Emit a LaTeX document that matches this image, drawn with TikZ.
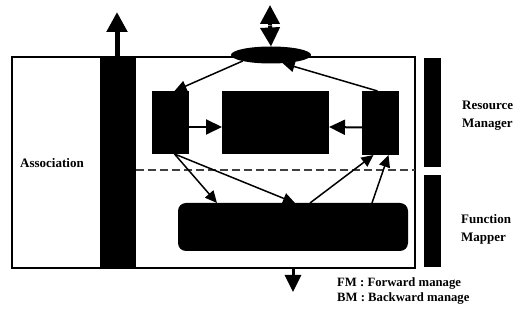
\documentclass[tikz,border=0pt]{standalone}
\usepackage{fontspec}
\setmainfont{Liberation Serif}
\usetikzlibrary{shapes.geometric,arrows.meta}
\begin{document}
\begin{tikzpicture}[x=1pt,y=-1pt,
  blk/.style={fill=black,draw=none,inner sep=0pt,outer sep=0pt},
  arr/.style={line width=1.5pt,-{Triangle[length=12pt,width=11pt]}},
  harr/.style={line width=2pt,-{Triangle[length=16pt,width=15pt]}},
  bigarr/.style={line width=5pt,-{Triangle[length=20pt,width=20pt]}},
  lbl/.style={font=\fontsize{13}{18}\selectfont\bfseries,inner sep=0pt,anchor=west,align=left}]
\useasboundingbox (0,0) rectangle (523,328);

% outer frame
\node[draw,line width=1.7pt,minimum width=403pt,minimum height=211pt,inner sep=0pt,outer sep=0pt] (frame) at (213.5,162.5) {};

% association bar
\node[blk,minimum width=36pt,minimum height=211pt] (bar) at (118,162.5) {};

% upper ellipse
\node[ellipse,blk,minimum width=80pt,minimum height=17pt] (ell) at (271,55) {};

% inner blocks
\node[blk,minimum width=37pt,minimum height=63pt] (lbox) at (170.5,122.5) {};
\node[blk,minimum width=107pt,minimum height=63pt] (cbox) at (275.5,122.5) {};
\node[blk,minimum width=37pt,minimum height=64pt] (rbox) at (380.5,123) {};
\node[blk,rounded corners=8pt,minimum width=230pt,minimum height=48pt] (fbox) at (293,227) {};

% side bars
\node[blk,minimum width=17pt,minimum height=109pt] (rmbar) at (432.5,112.5) {};
\node[blk,minimum width=17pt,minimum height=92pt] (fmbar) at (432.5,221) {};

% separator between the two managers
\coordinate (dl) at (136,170);
\coordinate (dr) at (415,170);
\draw[line width=1.1pt,dash pattern=on 8pt off 4pt,black!75] (dl) -- (dr);

% external arrows
\coordinate (uptip) at (117,12);
\draw[bigarr] (117,57) -- (uptip);
\coordinate (dbltop) at (270,5);
\coordinate (dblmid) at (270,25.5);
\draw[line width=4pt,-{Triangle[length=19pt,width=19pt]}] (dblmid) -- (dbltop);
\draw[line width=4pt,-{Triangle[length=19pt,width=19pt]}] (dblmid) -- (ell.north);
\coordinate (dntip) at (293,292);
\draw[line width=3pt,-{Triangle[length=17pt,width=16pt]}] (frame.south -| dntip) -- (dntip);

% internal connectors
\draw[harr] ([yshift=-4.5pt]lbox.east) -- ([yshift=-4.5pt]cbox.west);
\draw[harr] ([yshift=-4.5pt]rbox.west) -- ([yshift=-4.5pt]cbox.east);
\draw[arr] (ell.south west) -- ([xshift=4pt]lbox.north);
\draw[arr] ([xshift=-3pt]rbox.north) -- (ell.-35);
\draw[arr] ([xshift=4pt]lbox.south) -- ([xshift=-76pt]fbox.north);
\draw[arr] ([xshift=4pt]lbox.south) -- ([xshift=2pt]fbox.north);
\draw[arr] ([xshift=17pt]fbox.north) -- ([xshift=-7pt]rbox.south);
\draw[arr] ([xshift=79pt]fbox.north) -- ([xshift=8pt]rbox.south);

% labels
\node[lbl] (assoc) at (20,163) {Association};
\node[lbl] (rmlbl) at (462,116) {Resource\\Manager};
\node[lbl] (fmlbl) at (461,229) {Function\\Mapper};
\node[lbl,font=\fontsize{12.7}{15}\selectfont\bfseries] (legend) at (337,290.5) {FM : Forward manage\\BM : Backward manage};
\end{tikzpicture}
\end{document}
